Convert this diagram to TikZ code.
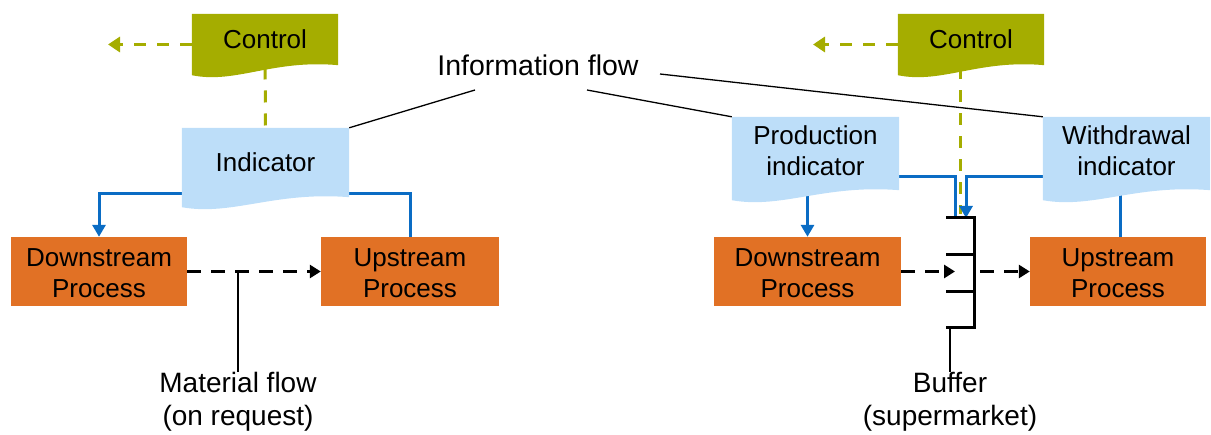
\documentclass[tikz,border=0pt]{standalone}
\usepackage{fontspec}
\setmainfont{Liberation Sans}
\usetikzlibrary{arrows.meta,calc}
\definecolor{ctlcol}{HTML}{A5AD00}
\definecolor{indcol}{HTML}{BDDEF9}
\definecolor{proccol}{HTML}{E17125}
\definecolor{flowblue}{HTML}{0A6CC4}
\pgfdeclarelayer{back}
\pgfdeclarelayer{bg}
\pgfsetlayers{back,bg,main}
\newcommand{\docfill}[2]{%
  \begin{pgfonlayer}{bg}
  \fill[#2] (#1.north west) -- (#1.north east) -- ($(#1.south east)+(0,-10)$)
    .. controls ($(#1.south west)!0.55!(#1.south east)+(0,-16)$) and ($(#1.south west)!0.3!(#1.south east)+(0,9)$) .. (#1.south west) -- cycle;
  \end{pgfonlayer}}
\newcommand{\liftlines}[2]{\raisebox{#1}[\height][\depth]{\begin{tabular}{@{}c@{}}#2\end{tabular}}}
\tikzset{
  boxtext/.style={font=\fontsize{26}{31}\selectfont, align=center, inner sep=0pt},
  labeltext/.style={font=\fontsize{28}{33}\selectfont, align=center, inner sep=0pt},
  docbox/.style={boxtext, minimum width=#1},
  procbox/.style={boxtext, fill=proccol, minimum width=#1, minimum height=69pt},
  odash/.style={draw=ctlcol, line width=3pt, dash pattern=on 12pt off 11pt},
  bline/.style={draw=flowblue, line width=3pt},
  mdash/.style={draw=black, line width=3pt, dash pattern=on 14pt off 10pt},
  thinline/.style={draw=black, line width=1.3pt},
  bufline/.style={draw=black, line width=3pt, line cap=rect},
  btip/.style={-{Triangle[length=12pt,width=13pt]}},
  ktip/.style={-{Triangle[length=11pt,width=13pt]}},
  otip/.style={-{Triangle[length=12pt,width=15pt]}}
}
\begin{document}
\begin{tikzpicture}[x=1pt,y=-1pt]
\useasboundingbox (0,0) rectangle (1211,435);

% ---------- left side ----------
\node[docbox=146pt, minimum height=61pt] (ctlL) at (265,44.5) {\raisebox{5pt}[\height][\depth]{Control}};
\docfill{ctlL}{ctlcol}
\node[docbox=167pt, minimum height=79pt] (ind) at (265.5,167.5) {\raisebox{5pt}[\height][\depth]{Indicator}};
\docfill{ind}{indcol}
\node[procbox=176pt] (dsL) at (99,271.5) {\liftlines{-4pt}{Downstream\\Process}};
\node[procbox=178pt] (usL) at (410,271.5) {\liftlines{-4pt}{Upstream\\Process}};

\coordinate (ctlLend) at (108,44.5);
\draw[odash,otip] (ctlL) -- (ctlLend);
\begin{pgfonlayer}{back}
\draw[odash] (ctlL.center) -- (ind.north);
\draw[bline,btip] ($(ind.center)+(0,26.5)$) -| (dsL);
\draw[bline] ($(ind.center)+(0,26.5)$) -| (usL);
\end{pgfonlayer}
\draw[mdash,ktip] (dsL) -- (usL);

\node[labeltext] (mf) at (238,402) {Material flow\\(on request)};
\coordinate (mfstart) at (238,271.5);
\draw[thinline] (mfstart) -- (mf.north);

% ---------- information flow ----------
\node[labeltext, font=\fontsize{28.5}{32}\selectfont] (info) at (538,65) {Information flow};
\coordinate (if1) at (475,90);
\coordinate (if2) at (587,90);
\coordinate (if3) at (660,74);

% ---------- right side ----------
\node[docbox=146pt, minimum height=61pt] (ctlR) at (971,44.5) {\raisebox{5pt}[\height][\depth]{Control}};
\docfill{ctlR}{ctlcol}
\node[docbox=167pt, minimum height=83pt] (pi) at (815.5,158.5) {\liftlines{5pt}{Production\\indicator}};
\docfill{pi}{indcol}
\node[docbox=167pt, minimum height=83pt] (wi) at (1126.5,158.5) {\liftlines{5pt}{Withdrawal\\indicator}};
\docfill{wi}{indcol}
\node[procbox=187pt] (dsR) at (807.5,271.5) {\liftlines{-4pt}{Downstream\\Process}};
\node[procbox=176pt] (usR) at (1118,271.5) {\liftlines{-4pt}{Upstream\\Process}};

\draw[thinline] (if1) -- (ind.north east);
\draw[thinline] (if2) -- (pi.north west);
\draw[thinline] (if3) -- (wi.north west);

\coordinate (ctlRend) at (813,44.5);
\draw[odash,otip] (ctlR) -- (ctlRend);

% buffer
\coordinate (bt) at (974,218);
\coordinate (bb) at (974,328);
\draw[bufline] ($(bt)+(-27,0)$) -- (bt) -- (bb) -- ($(bb)+(-27,0)$);
\draw[bufline] ($(bt)!1/3!(bb)$) -- ++(-27,0);
\draw[bufline] ($(bt)!2/3!(bb)$) -- ++(-27,0);

\coordinate (cv) at (960,214);
\coordinate (bl1) at (955,217);
\coordinate (bl2) at (966,218);
\coordinate (bin) at (955,271.5);
\begin{pgfonlayer}{back}
\draw[odash] (ctlR.center -| cv) -- (cv);
\draw[bline] ($(pi.center)+(0,18.5)$) -| (bl1);
\draw[bline,btip] ($(wi.center)+(0,18.5)$) -| (bl2);
\draw[bline,btip] (pi.center -| dsR) -- (dsR);
\draw[bline] ($(wi.center -| usR)+(2,0)$) -- ($(usR.north)+(2,0)$);
\end{pgfonlayer}

\draw[mdash,ktip] (dsR) -- (bin);
\draw[mdash,ktip] ($(bt |- usR)+(6,0)$) -- (usR);

\node[labeltext] (buf) at (950,402) {Buffer\\(supermarket)};
\coordinate (bufstart) at (950,328);
\draw[thinline] (bufstart) -- (buf.north);
\end{tikzpicture}
\end{document}
